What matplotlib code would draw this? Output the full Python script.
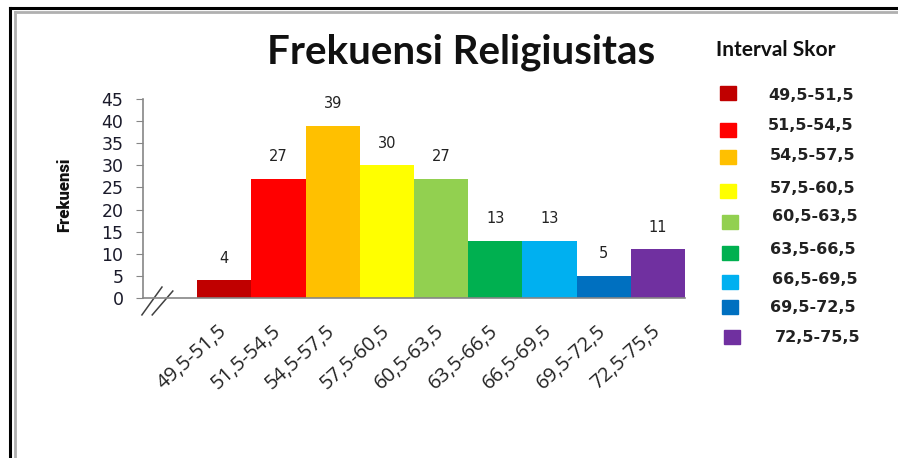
import numpy as np
import matplotlib
matplotlib.use("Agg")
import matplotlib.pyplot as plt
from matplotlib.lines import Line2D
from matplotlib.patches import Rectangle

# ---------------------------
# DATOS
# ---------------------------

intervalos = ["49,5-51,5", "51,5-54,5", "54,5-57,5", "57,5-60,5", "60,5-63,5",
              "63,5-66,5", "66,5-69,5", "69,5-72,5", "72,5-75,5"]
frekuensi = [4, 27, 39, 30, 27, 13, 13, 5, 11]
warna = ["#C00000", "#FF0000", "#FFC000", "#FFFF00", "#92D050",
         "#00B050", "#00B0F0", "#0070C0", "#7030A0"]

W, H = 898, 458

# ---------------------------
# FIGURA
# ---------------------------

fig = plt.figure(figsize=(W / 100, H / 100), dpi=100)
fig.patch.set_facecolor("white")

# marco del documento
fig.add_artist(Line2D([10 / W, 10 / W], [0, 1 - 8 / H], color="black", lw=2.2))
fig.add_artist(Line2D([10 / W, 1], [1 - 8 / H, 1 - 8 / H], color="black", lw=2.2))
fig.add_artist(Line2D([15 / W, 15 / W], [0, 1 - 12 / H], color="#b0b0b0", lw=2))
fig.add_artist(Line2D([15 / W, 1], [1 - 12 / H, 1 - 12 / H], color="#b0b0b0", lw=2))

# ejes
ax = fig.add_axes([143 / W, 1 - 298 / H, 542 / W, 199 / H])
pos = np.arange(1, len(frekuensi) + 1)
ax.bar(pos, frekuensi, width=1.0, color=warna, edgecolor="none")
ax.set_xlim(-0.5, 9.5)
ax.set_ylim(0, 45)
ax.set_yticks(range(0, 46, 5))

for s in ["top", "right"]:
    ax.spines[s].set_visible(False)
for s in ["left", "bottom"]:
    ax.spines[s].set_color("#868686")
    ax.spines[s].set_linewidth(1.2)

ax.tick_params(axis="y", length=5, color="#868686", labelsize=12.5,
               labelcolor="#1a1a2a", pad=9)
ax.set_xticks(pos)
ax.set_xticklabels(intervalos, rotation=42, ha="right", va="center",
                   rotation_mode="anchor", fontsize=14.5, color="#222222",
                   family="Open Sans")
ax.tick_params(axis="x", length=0, pad=22)

# etiquetas de valor
for x, v in zip(pos, frekuensi):
    ax.annotate(str(v), (x, v), xytext=(0, 16), textcoords="offset points",
                ha="center", va="center", fontsize=10.5, color="#222222")

# marca de corte del eje
ax.plot([-0.002, 0.035], [-0.085, 0.055], transform=ax.transAxes,
        color="#404040", lw=1.1, clip_on=False)
ax.plot([0.017, 0.055], [-0.085, 0.035], transform=ax.transAxes,
        color="#404040", lw=1.1, clip_on=False)

fig.text(64 / W, 1 - 195 / H, "Frekuensi", rotation=90, ha="center", va="center",
         fontsize=12, fontweight="black", family="Roboto", color="#111111")

# titulo
fig.text(461 / W, 1 - 52 / H, "Frekuensi Religiusitas", ha="center", va="center",
         fontsize=29, fontweight="bold", family="Lato", color="#111111")

# leyenda manual
fig.text(776 / W, 1 - 50 / H, "Interval Skor", ha="center", va="center",
         fontsize=15, fontweight="bold", family="Lato", color="#111111")

kotak_y = [93, 130, 157, 191, 222, 253, 282, 307, 337]
kotak_x = [720, 720, 720, 720, 722, 722, 722, 722, 724]
label_y = [95, 126, 156, 188, 217, 250, 280, 308, 338]
label_x = [768, 768, 770, 770, 772, 770, 772, 770, 775]
for i, (lab, c) in enumerate(zip(intervalos, warna)):
    fig.add_artist(Rectangle((kotak_x[i] / W, 1 - (kotak_y[i] + 7) / H),
                             16 / W, 14 / H, color=c, transform=fig.transFigure))
    fig.text(label_x[i] / W, 1 - label_y[i] / H, lab, ha="left", va="center",
             fontsize=11.5, fontweight="bold", color="#222222")

fig.savefig("out.png", dpi=100, facecolor="white")
